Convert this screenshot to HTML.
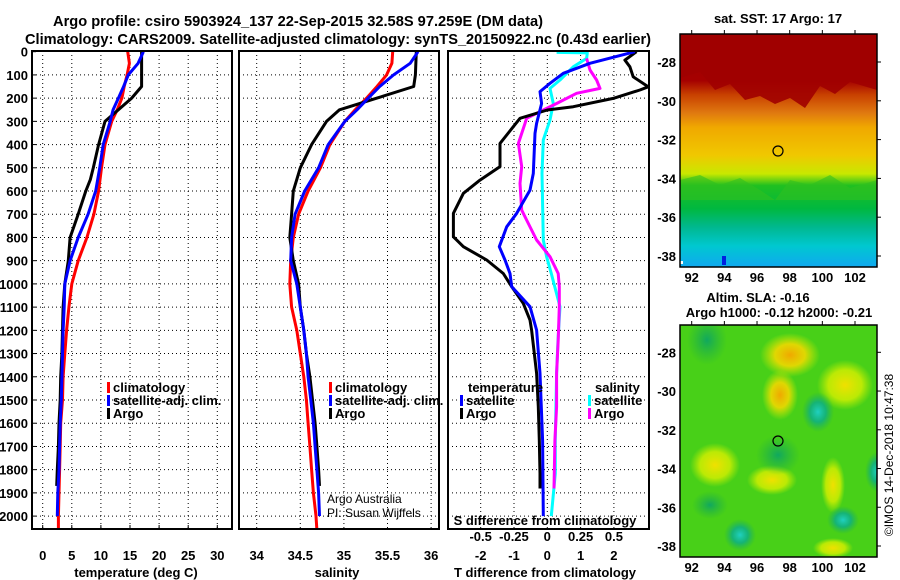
<!DOCTYPE html>
<html><head><meta charset="utf-8"><style>
html,body{margin:0;padding:0;background:#fff;width:900px;height:580px;overflow:hidden}
svg{display:block;font-family:"Liberation Sans",sans-serif}
.t{font-weight:bold;font-size:13px}
.tt{font-weight:bold;font-size:15px}
</style></head><body>
<svg id="fig" width="900" height="580" viewBox="0 0 900 580">
<defs>
<linearGradient id="sstGrad" x1="0" y1="0" x2="0" y2="1">
<stop offset="0" stop-color="#a00000"/><stop offset="0.2" stop-color="#a50000"/>
<stop offset="0.26" stop-color="#c84000"/><stop offset="0.34" stop-color="#e07a10"/>
<stop offset="0.40" stop-color="#f0a800"/><stop offset="0.52" stop-color="#f0c800"/>
<stop offset="0.60" stop-color="#c8e800"/><stop offset="0.65" stop-color="#20c020"/>
<stop offset="0.75" stop-color="#00b840"/><stop offset="0.83" stop-color="#00b890"/>
<stop offset="0.91" stop-color="#00c8d0"/><stop offset="1" stop-color="#10a8f0"/>
</linearGradient>
<radialGradient id="yel"><stop offset="0" stop-color="#f0e000"/><stop offset="0.6" stop-color="#d8f000" stop-opacity="0.8"/><stop offset="1" stop-color="#c0f000" stop-opacity="0"/></radialGradient>
<radialGradient id="org"><stop offset="0" stop-color="#f0a800"/><stop offset="0.5" stop-color="#f0d800" stop-opacity="0.9"/><stop offset="1" stop-color="#d0f000" stop-opacity="0"/></radialGradient>
<radialGradient id="teal"><stop offset="0" stop-color="#20d0c0"/><stop offset="0.5" stop-color="#10b080" stop-opacity="0.9"/><stop offset="1" stop-color="#20b050" stop-opacity="0"/></radialGradient>
<radialGradient id="dgr"><stop offset="0" stop-color="#10a860"/><stop offset="1" stop-color="#20b040" stop-opacity="0"/></radialGradient>
<clipPath id="c1"><rect x="32" y="51" width="200" height="478"/></clipPath>
<clipPath id="c2"><rect x="239" y="51" width="200" height="478"/></clipPath>
<clipPath id="c3"><rect x="448" y="51" width="201" height="478"/></clipPath>
<clipPath id="m1"><rect x="680" y="34" width="197" height="233"/></clipPath>
<clipPath id="m2"><rect x="680" y="325" width="197" height="232"/></clipPath>
</defs>
<text class="tt" x="53" y="26" textLength="490" lengthAdjust="spacingAndGlyphs">Argo profile: csiro 5903924_137 22-Sep-2015 32.58S 97.259E (DM data)</text>
<text class="tt" x="25" y="44" textLength="626" lengthAdjust="spacingAndGlyphs">Climatology: CARS2009. Satellite-adjusted climatology: synTS_20150922.nc (0.43d earlier)</text>
<g id="plots"></g>
<g clip-path="url(#m1)">
<rect x="680" y="34" width="197" height="233" fill="url(#sstGrad)"/>
<path d="M680 78 L700 72 L715 90 L730 84 L745 100 L760 96 L775 104 L790 98 L805 108 L820 86 L835 94 L850 82 L877 90 L877 34 L680 34Z" fill="#a00000" opacity="0.9"/>
<path d="M680 180 L700 175 L720 185 L740 178 L760 190 L775 200 L790 180 L810 185 L830 175 L850 188 L877 180 L877 200 L680 200Z" fill="#30c020" opacity="0.6"/>
<rect x="680" y="261" width="3" height="3" fill="#fff"/>
<rect x="722" y="256" width="4" height="9" fill="#0020e0"/>
</g>
<rect x="680" y="34" width="197" height="233" fill="none" stroke="#000" stroke-width="1.5"/>
<circle cx="778" cy="151" r="5" fill="none" stroke="#000" stroke-width="1.2"/>
<g clip-path="url(#m2)">
<rect x="680" y="325" width="197" height="232" fill="#48d018"/>
<ellipse cx="707" cy="340" rx="20" ry="25" fill="url(#dgr)"/>
<ellipse cx="790" cy="355" rx="30" ry="22" fill="url(#org)"/>
<ellipse cx="780" cy="395" rx="18" ry="25" fill="url(#org)"/>
<ellipse cx="845" cy="385" rx="28" ry="25" fill="url(#yel)"/>
<ellipse cx="715" cy="465" rx="25" ry="22" fill="url(#yel)"/>
<ellipse cx="772" cy="480" rx="25" ry="15" fill="url(#yel)"/>
<ellipse cx="833" cy="485" rx="12" ry="28" fill="url(#yel)"/>
<ellipse cx="818" cy="412" rx="16" ry="20" fill="url(#teal)"/>
<ellipse cx="778" cy="455" rx="22" ry="20" fill="url(#dgr)"/>
<ellipse cx="740" cy="535" rx="16" ry="16" fill="url(#teal)"/>
<ellipse cx="843" cy="520" rx="16" ry="14" fill="url(#teal)"/>
<ellipse cx="877" cy="472" rx="12" ry="20" fill="url(#teal)"/>
<ellipse cx="710" cy="505" rx="18" ry="14" fill="url(#dgr)"/>
<ellipse cx="833" cy="548" rx="20" ry="10" fill="url(#yel)"/>
</g>
<rect x="680" y="325" width="197" height="232" fill="none" stroke="#000" stroke-width="1.5"/>
<circle cx="778" cy="441" r="5" fill="none" stroke="#000" stroke-width="1.2"/>
<text class="t" x="778" y="23" text-anchor="middle">sat. SST: 17 Argo: 17</text>
<text class="t" x="758" y="302" text-anchor="middle">Altim. SLA: -0.16</text>
<text class="t" x="779" y="317" text-anchor="middle">Argo h1000: -0.12 h2000: -0.21</text>
<text x="893" y="455" font-size="12" text-anchor="middle" transform="rotate(-90 893 455)">©IMOS 14-Dec-2018 10:47:38</text>
<g id="mapaxes"></g>
</svg>
<script>
const depthTicks = [0,100,200,300,400,500,600,700,800,900,1000,1100,1200,1300,1400,1500,1600,1700,1800,1900,2000];
const tempTicks = [0,5,10,15,20,25,30];
const salTicks = [34,34.5,35,35.5,36];
const salTickLabels = ["34","34.5","35","35.5","36"];
const tdiffTicks = [-2,-1,0,1,2];
const sdiffTicks = [-0.5,-0.25,0,0.25,0.5];
const sdiffTickLabels = ["-0.5","-0.25","0","0.25","0.5"];

const climDepth = [0,50,100,150,200,250,300,400,500,600,700,800,900,1000,1100,1200,1300,1400,1500,1600,1700,1800,1900,2000,2060];
const climTemp = [14.6,14.9,14.5,14.0,13.6,12.8,11.85,10.7,10.1,9.6,8.8,7.6,6.1,5.0,4.5,4.1,3.8,3.5,3.4,3.1,3.0,2.9,2.8,2.7,2.7];
const climSal = [35.56,35.55,35.49,35.38,35.26,35.13,35.01,34.84,34.73,34.59,34.48,34.42,34.39,34.38,34.40,34.46,34.50,34.54,34.57,34.59,34.61,34.63,34.65,34.68,34.69];
const satDepth = [0,50,100,150,200,250,300,400,500,600,700,800,900,1000,1100,1200,1300,1400,1500,1600,1700,1800,1900,2000];
const satTemp = [17.3,16.4,14.7,13.9,13.0,12.1,11.6,10.4,9.8,9.1,7.8,6.1,4.7,3.8,3.7,3.5,3.4,3.3,3.2,3.0,2.9,2.8,2.6,2.5];
const satSal = [35.85,35.76,35.57,35.41,35.28,35.15,35.01,34.82,34.71,34.55,34.44,34.40,34.39,34.46,34.50,34.54,34.57,34.59,34.62,34.65,34.67,34.69,34.71,34.72];
const argoDepth = [0,100,150,200,250,300,400,500,550,600,700,800,900,1000,1100,1200,1300,1400,1500,1600,1700,1800,1870];
const argoTemp = [17.0,17.0,17.0,15.3,13.0,10.7,9.6,8.7,8.2,7.4,6.1,4.7,4.4,3.8,3.5,3.4,3.3,3.1,3.0,2.8,2.7,2.5,2.4];
const argoSal = [35.83,35.82,35.80,35.38,34.95,34.80,34.63,34.50,34.46,34.42,34.40,34.38,34.42,34.48,34.50,34.54,34.57,34.61,34.64,34.67,34.69,34.71,34.72];

const tdArgoDepth = [0,36,65,108,151,165,201,237,251,287,323,395,495,553,610,696,797,840,897,955,1012,1084,1156,1199,1385,1529,1673,1816,1881];
const tdArgo = [2.68,2.33,2.48,2.58,3.03,2.78,1.98,0.78,0,-0.82,-1.02,-1.42,-1.42,-2.02,-2.52,-2.82,-2.82,-2.52,-1.82,-1.32,-1.07,-0.72,-0.52,-0.47,-0.32,-0.27,-0.24,-0.22,-0.22];
const tdSatDepth = [0,50,93,136,172,223,309,352,524,596,696,754,840,897,955,1012,1098,1199,1385,1673,2000];
const tdSat = [2.63,1.28,0.48,0.08,-0.22,-0.17,-0.32,-0.37,-0.42,-0.52,-0.92,-1.22,-1.44,-1.27,-1.12,-1.07,-0.52,-0.32,-0.22,-0.14,-0.12];
const sdSatDepth = [3,5,29,65,122,158,223,294,380,524,811,883,955,1098,1242,1385,1673,1816,2000];
const sdSat = [0.07,0.30,0.295,0.195,0.095,0.02,0.045,0.02,-0.03,-0.04,-0.03,-0.005,0.03,0.095,0.08,0.07,0.06,0.06,0.03];
const sdArgoDepth = [29,79,122,158,179,223,251,287,309,395,495,567,682,725,811,883,955,1012,1098,1242,1385,1529,1673,1881];
const sdArgo = [0.295,0.32,0.37,0.395,0.22,0.07,-0.03,-0.155,-0.167,-0.217,-0.192,-0.205,-0.192,-0.155,-0.08,0.02,0.082,0.09,0.09,0.082,0.07,0.07,0.057,0.05];

const latTicks = [-28,-30,-32,-34,-36,-38];
const lonTicks = [92,94,96,98,100,102];

const NS = "http://www.w3.org/2000/svg";
const yD = d => 51.7 + d * 0.2322;
const xT = t => 42.7 + t * 5.82;
const xS = s => 256.7 + (s - 34) * 87.2;
const xTD = t => 547.3 + t * 33.3;
const xSD = s => 547.3 + s * 133.3;
const P = [{x0:32,x1:232,clip:'c1'},{x0:239,x1:439,clip:'c2'},{x0:448,x1:649,clip:'c3'}];
const root = document.getElementById('plots');
function el(tag, attrs, parent){const e=document.createElementNS(NS,tag);for(const k in attrs)e.setAttribute(k,attrs[k]);(parent||root).appendChild(e);return e;}
function txt(x,y,s,anchor,size,bold,name){const t=el('text',{x:x,y:y,'text-anchor':anchor||'middle','font-size':size||13,'font-weight':bold===false?'normal':'bold'});t.textContent=s;


return t;}

P.forEach((p,i)=>{
  depthTicks.forEach(d=>{ if(d===0) return; const l=el('line',{x1:p.x0,x2:p.x1,y1:yD(d),y2:yD(d),stroke:'#000','stroke-width':1,'stroke-dasharray':'1 3'});
    
     });
});
tempTicks.forEach(t=>{const l=el('line',{x1:xT(t),x2:xT(t),y1:51,y2:529,stroke:'#000','stroke-dasharray':'1 3'});
  
  
  txt(xT(t),560,String(t),'middle',13,true,'temp-tick-label');
  el('line',{x1:xT(t),x2:xT(t),y1:529,y2:525,stroke:'#000'});});
salTicks.forEach((s,i)=>{const l=el('line',{x1:xS(s),x2:xS(s),y1:51,y2:529,stroke:'#000','stroke-dasharray':'1 3'});
  
  
  txt(xS(s),560,salTickLabels[i],'middle',13,true,'sal-tick-label');});
tdiffTicks.forEach(t=>{const l=el('line',{x1:xTD(t),x2:xTD(t),y1:51,y2:529,stroke:'#000','stroke-dasharray':'1 3'});
  
  
  txt(xTD(t),560,String(t),'middle',13,true,'tdiff-tick-label');});
sdiffTicks.forEach((s,i)=>{txt(xSD(s),541,sdiffTickLabels[i],'middle',13,true,'sdiff-tick-label');});
depthTicks.forEach(d=>{txt(28,yD(d)+5,String(d),'end',13,true,'depth-tick-label');
  el('line',{x1:32,x2:36,y1:yD(d),y2:yD(d),stroke:'#000'});});

function series(xs,ds,fx,color,clip,name){
  const pts=xs.map((v,i)=>fx(v).toFixed(1)+','+yD(ds[i]).toFixed(1)).join(' ');
  const pl=el('polyline',{points:pts,fill:'none',stroke:color,'stroke-width':3,'stroke-linejoin':'round','clip-path':'url(#'+clip+')'});
  
  
}
series(climTemp,climDepth,xT,'#ff0000','c1','temp-climatology-line');
series(argoTemp,argoDepth,xT,'#000000','c1','temp-argo-line');
series(satTemp,satDepth,xT,'#0000ff','c1','temp-satellite-line');
series(climSal,climDepth,xS,'#ff0000','c2','sal-climatology-line');
series(argoSal,argoDepth,xS,'#000000','c2','sal-argo-line');
series(satSal,satDepth,xS,'#0000ff','c2','sal-satellite-line');
series(sdSat,sdSatDepth,xSD,'#00ffff','c3','sdiff-satellite-line');
series(sdArgo,sdArgoDepth,xSD,'#ff00ff','c3','sdiff-argo-line');
series(tdArgo,tdArgoDepth,xTD,'#000000','c3','tdiff-argo-line');
series(tdSat,tdSatDepth,xTD,'#0000ff','c3','tdiff-satellite-line');

P.forEach((p,i)=>{const r=el('rect',{x:p.x0,y:51,width:p.x1-p.x0,height:478,fill:'none',stroke:'#000','stroke-width':2});
  
  });

txt(136,577,'temperature (deg C)','middle',13,true,'temp-axis-title');
txt(337,577,'salinity','middle',13,true,'sal-axis-title');
txt(545,577,'T difference from climatology','middle',13,true,'tdiff-axis-title');
txt(545,525,'S difference from climatology','middle',13,true,'sdiff-axis-title');

function leg(x,y,color,label,name){const r=el('rect',{x:x,y:y-10,width:3,height:11,fill:color});
  
  
  txt(x+6,y,label,'start',13,true,name);}
leg(107,392,'#ff0000','climatology','legend-temp-climatology');
leg(107,405,'#0000ff','satellite-adj. clim.','legend-temp-satellite');
leg(107,418,'#000000','Argo','legend-temp-argo');
leg(329,392,'#ff0000','climatology','legend-sal-climatology');
leg(329,405,'#0000ff','satellite-adj. clim.','legend-sal-satellite');
leg(329,418,'#000000','Argo','legend-sal-argo');
txt(468,392,'temperature','start',13,true,'legend-temperature-header');
leg(460,405,'#0000ff','satellite','legend-tdiff-satellite');
leg(460,418,'#000000','Argo','legend-tdiff-argo');
txt(595,392,'salinity','start',13,true,'legend-salinity-header');
leg(588,405,'#00ffff','satellite','legend-sdiff-satellite');
leg(588,418,'#ff00ff','Argo','legend-sdiff-argo');
txt(327,503,'Argo Australia','start',12,false,'credit-line-1');
txt(327,517,'PI: Susan Wijffels','start',12,false,'credit-line-2');

const mroot=document.getElementById('mapaxes');
[[34,267,62,256],[325,557,352.3,546]].forEach((m,mi)=>{
  const latY=l=>m[2]+(-28-l)*((m[3]-m[2])/10);
  latTicks.forEach(l=>{const t=el('text',{x:676,y:latY(l)+5,'text-anchor':'end','font-size':13,'font-weight':'bold'},mroot);t.textContent=String(l);
    
    
    el('line',{x1:877,x2:881,y1:latY(l),y2:latY(l),stroke:'#000'},mroot);});
  const lonX=l=>691.7+(l-92)*16.33;
  lonTicks.forEach(l=>{const t=el('text',{x:lonX(l),y:m[1]+15,'text-anchor':'middle','font-size':13,'font-weight':'bold'},mroot);t.textContent=String(l);
    
    
    el('line',{x1:lonX(l),x2:lonX(l),y1:m[0],y2:m[0]-4,stroke:'#000'},mroot);});
});
</script>
</body></html>
